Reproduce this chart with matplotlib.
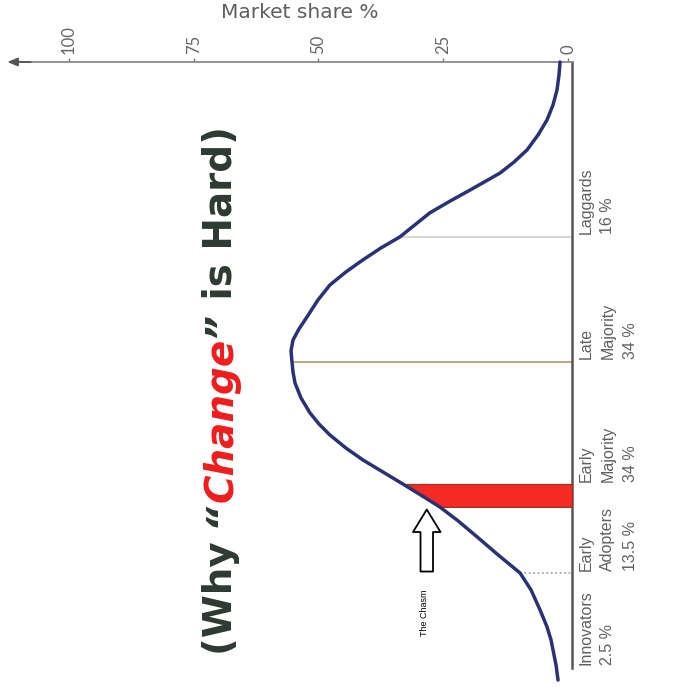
import matplotlib
matplotlib.use('Agg')
import matplotlib.pyplot as plt
import matplotlib.transforms as mtransforms
import numpy as np

# ---------------- data ----------------
# adoption position (in standard deviations from the mean) and market share %
curve_sd = [2.419, 2.315, 2.194, 2.073, 1.952, 1.831, 1.710, 1.613, 1.524, 1.460,
            1.387, 1.298, 1.202, 1.105, 1.008, 0.919, 0.823, 0.726, 0.621, 0.500,
            0.363, 0.266, 0.177, 0.089, 0.000, -0.081, -0.169, -0.290, -0.411, -0.500,
            -0.589, -0.694, -0.790, -0.887, -0.984, -1.073, -1.169, -1.282, -1.411, -1.556,
            -1.702, -1.839, -2.000, -2.137, -2.242, -2.323, -2.444, -2.565]
curve_share = [1.6, 1.8, 2.2, 3.0, 4.2, 6.0, 8.2, 10.8, 13.6, 16.4,
               19.6, 23.6, 27.7, 30.7, 33.7, 37.5, 41.1, 44.5, 47.7, 50.1,
               52.3, 53.9, 55.1, 55.5, 55.3, 55.1, 54.7, 53.5, 51.7, 49.9,
               47.7, 44.5, 41.1, 37.1, 33.1, 29.5, 25.7, 22.0, 18.2, 14.0,
               9.6, 7.4, 5.6, 4.2, 3.4, 3.0, 2.4, 2.0]

category_names = ['Innovators', 'Early\nAdopters', 'Early\nMajority', 'Late\nMajority', 'Laggards']
category_pct = ['2.5 %', '13.5 %', '34 %', '34 %', '16 %']
category_start_sd = [-2.46, -1.702, -0.984, 0.00, 1.008]

divider_sd = [-1.702, 0.00, 1.008]
divider_colors = ['#9a9a9a', '#b49a6a', '#cfcfcf']
divider_styles = [':', '-', '-']

chasm_sd = (-1.169, -0.984)
chasm_arrow_share = 28.3
chasm_arrow_sd = (-1.69, -1.19)
chasm_label_sd = -2.21

share_ticks = [0, 25, 50, 75, 100]
title_parts = ['(Why ', '\u201c', 'Change', '\u201d', ' is Hard)']
title_colors = ['#2c3a31', '#2c3a31', '#f01c1c', '#2c3a31', '#2c3a31']
title_styles = ['normal', 'italic', 'italic', 'italic', 'normal']

# ---------------- figure ----------------
W, H = 674, 700
fig = plt.figure(figsize=(W / 100, H / 100), dpi=100)
fig.patch.set_facecolor('white')

x_left, x_right, y_top, y_bot = 14, 572, 62, 668
ax = fig.add_axes([x_left / W, 1 - y_bot / H, (x_right - x_left) / W, (y_bot - y_top) / H])
ax.set_facecolor('none')
ax.set_xlim(111.0, -0.8)
ax.set_ylim(-2.468, 2.419)

for s in ['left', 'bottom']:
    ax.spines[s].set_visible(False)
ax.spines['top'].set_color('#8a8a8a')
ax.spines['top'].set_linewidth(1.3)
ax.spines['right'].set_color('#555555')
ax.spines['right'].set_linewidth(1.8)

ax.xaxis.tick_top()
ax.set_xticks(share_ticks)
ax.set_xticklabels([str(t) for t in share_ticks], rotation=90, fontsize=12,
                   color='#666666', family=['Lato', 'DejaVu Sans'])
ax.tick_params(axis='x', length=3, width=1, color='#777777', pad=3)
ax.set_yticks([])

# arrow head at the left end of the top axis
ax.annotate('', xy=(0.0 - 0.012, 1.0), xycoords='axes fraction',
            xytext=(0.03, 1.0), textcoords='axes fraction',
            arrowprops=dict(arrowstyle='-|>,head_length=0.6,head_width=0.25',
                            color='#555555', lw=1.3, shrinkA=0, shrinkB=0))

fig.text(300 / W, 1 - 13 / H, 'Market share %', ha='center', va='center',
         fontsize=14.5, color='#5e5e5e', family=['DejaVu Sans'])

# sort for interpolation
sd_arr = np.array(curve_sd)
sh_arr = np.array(curve_share)
order = np.argsort(sd_arr)

# divider lines
for d, c, ls in zip(divider_sd, divider_colors, divider_styles):
    xs = np.interp(d, sd_arr[order], sh_arr[order])
    ax.plot([xs, -0.8], [d, d], color=c, lw=1.2, ls=ls, zorder=2)

# chasm red band
mask = (sd_arr >= chasm_sd[0] - 1e-9) & (sd_arr <= chasm_sd[1] + 1e-9)
ax.fill_betweenx(sd_arr, sh_arr, -0.8, where=mask, color='#f42a24',
                 edgecolor='#a0301c', lw=0.8, zorder=3)

# curve
ax.plot(curve_share, curve_sd, color='#2a3274', lw=2.5, solid_joinstyle='round',
        solid_capstyle='round', zorder=4, clip_on=False)

# chasm arrow
ax.annotate('', xy=(chasm_arrow_share, chasm_arrow_sd[1]),
            xytext=(chasm_arrow_share, chasm_arrow_sd[0]),
            arrowprops=dict(arrowstyle='simple,head_length=0.9,head_width=1.1,tail_width=0.5',
                            fc='white', ec='black', lw=1.3, shrinkA=0, shrinkB=0,
                            mutation_scale=18), zorder=5)
ax.text(chasm_arrow_share + 0.4, chasm_label_sd, 'The Chasm', rotation=90,
        rotation_mode='anchor', ha='left', va='center', fontsize=6.5,
        color='black', family=['Liberation Sans', 'DejaVu Sans'])

# category labels
col_share = [-3.6, -8.0, -12.6]
for name, pct, start in zip(category_names, category_pct, category_start_sd):
    lines = name.split('\n') + [pct]
    for i, line in enumerate(lines):
        ax.text(col_share[i], start + 0.02, line, rotation=90, rotation_mode='anchor',
                ha='left', va='center', fontsize=11.5, color='#606060',
                family=['Liberation Sans', 'DejaVu Sans'], clip_on=False)

# title built from pieces
renderer = fig.canvas.get_renderer()
title_share, title_sd = 67.3, -2.36
offset = 0.0
for part, col, sty in zip(title_parts, title_colors, title_styles):
    tr = mtransforms.offset_copy(ax.transData, fig=fig, x=0, y=offset, units='dots')
    t = ax.text(title_share, title_sd, part, transform=tr, rotation=90,
                rotation_mode='anchor', ha='left', va='baseline', fontsize=28,
                fontweight='bold', fontstyle=sty, color=col,
                family=['DejaVu Sans'], clip_on=False)
    bb = t.get_window_extent(renderer)
    offset += bb.height

fig.savefig('out.png', dpi=100, facecolor='white')
